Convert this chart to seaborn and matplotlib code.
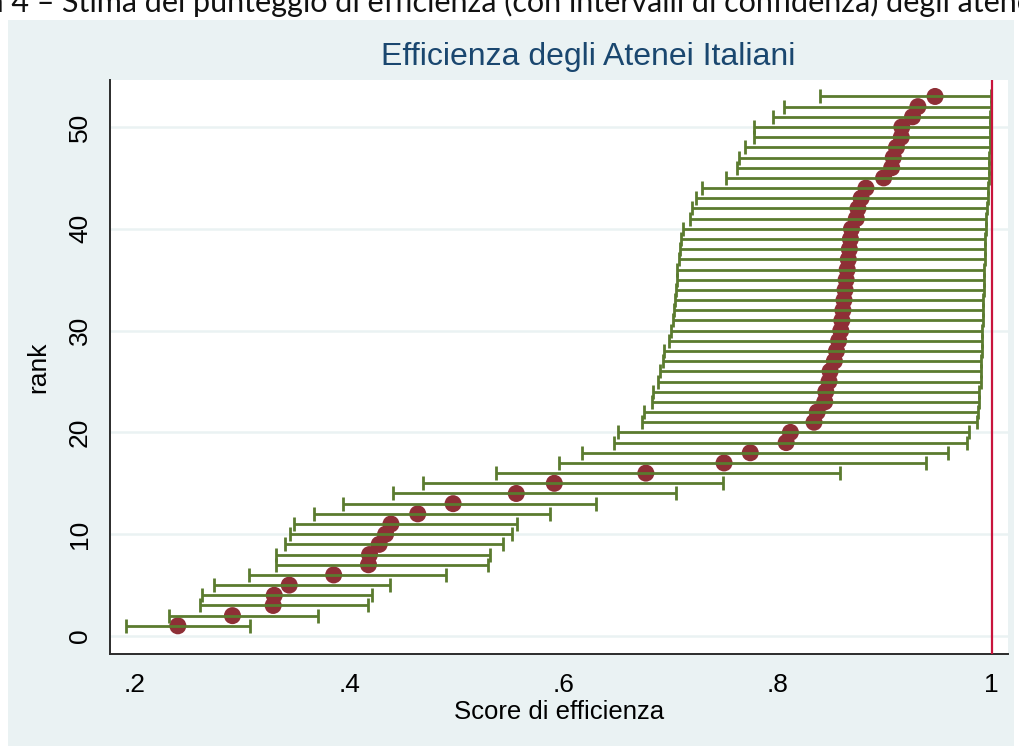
import matplotlib
matplotlib.use("Agg")
import matplotlib.pyplot as plt
from matplotlib.patches import Rectangle
import numpy as np
import pandas as pd
import seaborn as sns

# Efficiency scores of Italian universities, sorted by rank, with confidence bounds
rank = list(range(1, 54))
score = [0.240, 0.291, 0.329, 0.330, 0.344, 0.3855, 0.418, 0.419, 0.428, 0.434,
         0.439, 0.464, 0.497, 0.556, 0.5915, 0.677, 0.750, 0.7745, 0.808, 0.812,
         0.834, 0.837, 0.844, 0.845, 0.848, 0.849, 0.853, 0.855, 0.857, 0.859,
         0.860, 0.861, 0.862, 0.863, 0.864, 0.865, 0.866, 0.867, 0.868, 0.869,
         0.8735, 0.875, 0.878, 0.8825, 0.899, 0.9065, 0.908, 0.911, 0.9155, 0.916,
         0.926, 0.931, 0.947]
ci_low = [0.192, 0.232, 0.261, 0.263, 0.274, 0.306, 0.332, 0.332, 0.340, 0.345,
          0.348, 0.367, 0.394, 0.441, 0.4686, 0.537, 0.596, 0.617, 0.647, 0.651,
          0.673, 0.675, 0.683, 0.684, 0.688, 0.690, 0.693, 0.694, 0.699, 0.700,
          0.7025, 0.703, 0.704, 0.705, 0.706, 0.706, 0.708, 0.709, 0.710, 0.7115,
          0.718, 0.720, 0.7235, 0.729, 0.7515, 0.762, 0.764, 0.770, 0.778, 0.778,
          0.796, 0.806, 0.840]
ci_high = [0.307, 0.371, 0.418, 0.421, 0.438, 0.490, 0.530, 0.531, 0.544, 0.552,
           0.557, 0.5875, 0.630, 0.705, 0.749, 0.858, 0.939, 0.959, 0.977, 0.979,
           0.986, 0.987, 0.988, 0.9885, 0.9895, 0.990, 0.990, 0.9905, 0.991, 0.991,
           0.9915, 0.992, 0.992, 0.9925, 0.993, 0.993, 0.9935, 0.994, 0.994, 0.9945,
           0.995, 0.9955, 0.996, 0.9965, 0.997, 0.997, 0.9975, 0.998, 0.998, 0.9985,
           0.9985, 0.999, 0.999]
x_ticks = [0.2, 0.4, 0.6, 0.8, 1.0]
x_ticklabels = [".2", ".4", ".6", ".8", "1"]
y_ticks = [0, 10, 20, 30, 40, 50]

df = pd.DataFrame({"rank": rank, "score": score, "lo": ci_low, "hi": ci_high})

sns.set_theme(style="white")
plt.rcParams["font.family"] = ["Liberation Sans", "DejaVu Sans"]

W, H = 1020, 746
fig = plt.figure(figsize=(W / 100, H / 100), dpi=100)
fig.patch.set_facecolor("white")

# light graph-region panel, kept behind the axes
fig.patches.append(Rectangle((8 / W, 0), (1014 - 8) / W, 1 - 20 / H,
                             transform=fig.transFigure, facecolor="#EAF2F3",
                             edgecolor="none", zorder=-10))

# document caption running above the graph
cap_y = 1 - 12 / H
cap_font = ["Lato", "DejaVu Sans"]
fig.text(55 / W, cap_y, "Figura 4 –", ha="right", va="baseline",
         fontsize=22, family=cap_font, color="#111111")
fig.text(62 / W, cap_y,
         "Stima del punteggio di efficienza (con intervalli di confidenza) degli atenei",
         ha="left", va="baseline", fontsize=22, family=cap_font, color="#111111")

left, right, bottom, top = 110, 1008, 654, 80
ax = fig.add_axes([left / W, 1 - bottom / H, (right - left) / W, (bottom - top) / H])
ax.set_facecolor("white")
ax.set_zorder(1)

sns.scatterplot(data=df, x="score", y="rank", color="#8E2F36", s=150,
                edgecolor="none", linewidth=0, ax=ax, zorder=2, legend=False)
ax.errorbar(df["score"], df["rank"],
            xerr=[df["score"] - df["lo"], df["hi"] - df["score"]],
            fmt="none", ecolor="#5B7B2F", elinewidth=2.0, capsize=5.2,
            capthick=2.0, zorder=3)
ax.axvline(1.0, color="#C8143C", lw=1.6, zorder=4)

ax.set_xlim(0.2 + (left - 135) / 1071, 0.2 + (right - 135) / 1071)
ax.set_ylim((636 - bottom) / 10.18, (636 - top) / 10.18)

ax.set_xticks(x_ticks)
ax.set_xticklabels(x_ticklabels)
ax.set_yticks(y_ticks)
ax.set_yticklabels([str(v) for v in y_ticks], rotation=90, va="center")

ax.yaxis.grid(True, color="#EAF2F3", lw=1.8)
ax.xaxis.grid(False)
ax.set_axisbelow(True)

for s in ["top", "right"]:
    ax.spines[s].set_visible(False)
for s in ["left", "bottom"]:
    ax.spines[s].set_color("#2b2b2b")
    ax.spines[s].set_linewidth(1.4)

ax.tick_params(axis="both", direction="out", length=8, width=1.3, color="#2b2b2b",
               labelsize=19, labelcolor="black")
ax.tick_params(axis="x", pad=6)
ax.tick_params(axis="y", pad=5)

ax.set_xlabel("Score di efficienza", fontsize=18.5, color="black")
ax.set_ylabel("rank", fontsize=19, color="black")
ax.xaxis.label.set_va("center")
ax.yaxis.label.set_va("center")
ax.xaxis.set_label_coords(0.5, (bottom - 712) / (bottom - top))
ax.yaxis.set_label_coords((38 - left) / (right - left), 0.5)

fig.text(588 / W, 1 - 57 / H, "Efficienza degli Atenei Italiani", ha="center",
         va="center", fontsize=23, color="#1A476F")

fig.savefig("out.png", dpi=100)
